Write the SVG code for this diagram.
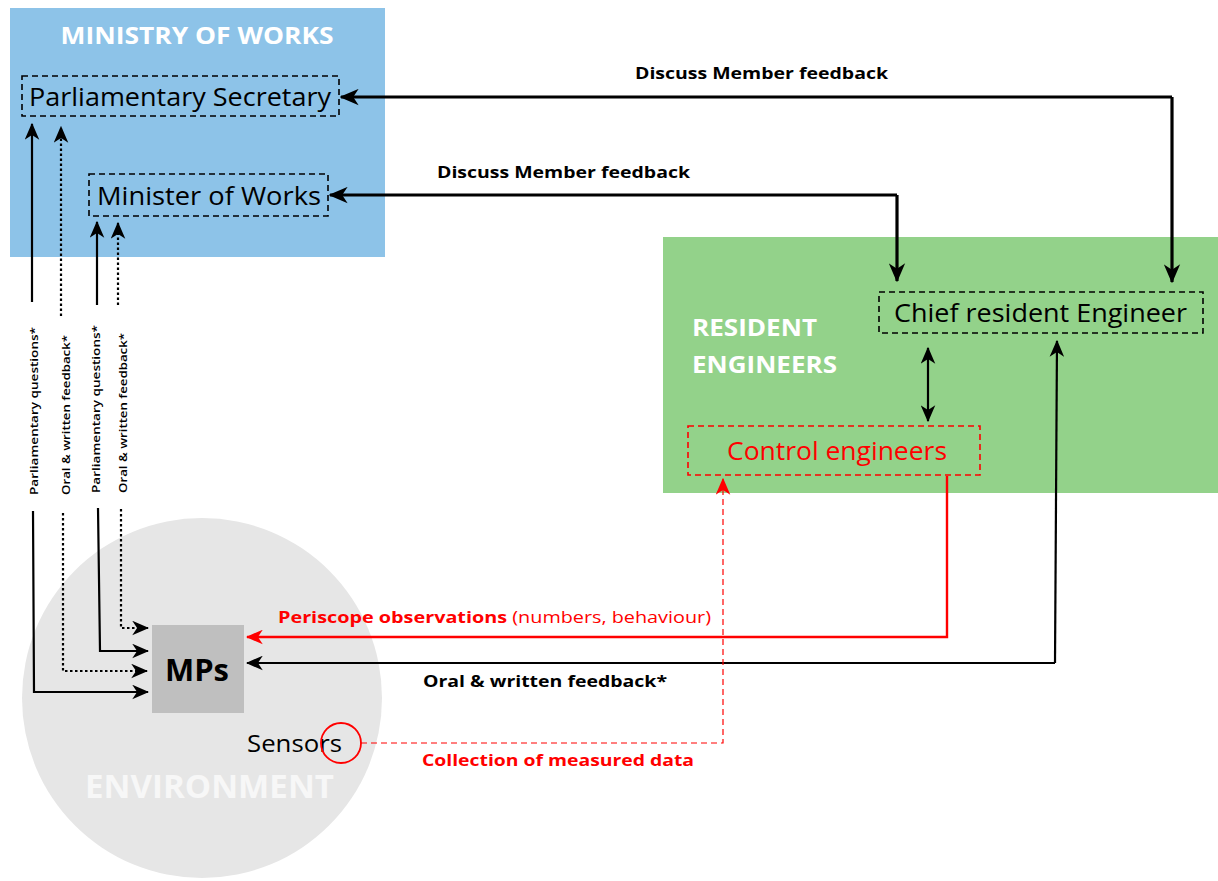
<svg xmlns="http://www.w3.org/2000/svg" width="1218" height="881" viewBox="0 0 1218 881">
<style>
.box{fill:none;stroke:#000;stroke-width:1.6;stroke-dasharray:6,4}
.rbox{fill:none;stroke:#ff0000;stroke-width:1.6;stroke-dasharray:6,4}
.node{font-family:"Open Sans","Liberation Sans",sans-serif;font-size:26px;fill:#000}
.hdr{font-family:"Open Sans","Liberation Sans",sans-serif;font-size:23px;font-weight:bold;fill:#fff}
.blk{fill:none;stroke:#000;stroke-width:2.2}
.thick{fill:none;stroke:#000;stroke-width:3.2}
.dot{fill:none;stroke:#000;stroke-width:2.2;stroke-dasharray:2.5,2.5}
.red{fill:none;stroke:#ff0000;stroke-width:2.4}
.rdash{fill:none;stroke:#ff0000;stroke-width:1.2;stroke-dasharray:6,4}
.vt{font-family:"Open Sans","Liberation Sans",sans-serif;font-size:11.5px;font-weight:600;fill:#000}
.cl{font-family:"Open Sans","Liberation Sans",sans-serif;font-size:16px;font-weight:bold}
</style>
<defs>
<marker id="ah" viewBox="0 0 14 12" refX="13" refY="6" markerWidth="17" markerHeight="15" markerUnits="userSpaceOnUse" orient="auto-start-reverse"><path d="M0,0 L14,6 L0,12 L4,6 z" fill="#000"/></marker>
<marker id="ahb" viewBox="0 0 14 12" refX="13" refY="6" markerWidth="19" markerHeight="17" markerUnits="userSpaceOnUse" orient="auto-start-reverse"><path d="M0,0 L14,6 L0,12 L4,6 z" fill="#000"/></marker>
<marker id="ahr" viewBox="0 0 14 12" refX="13" refY="6" markerWidth="17" markerHeight="15" markerUnits="userSpaceOnUse" orient="auto-start-reverse"><path d="M0,0 L14,6 L0,12 L4,6 z" fill="#ff0000"/></marker>
</defs>
<rect width="1218" height="881" fill="#fff"/>

<g id="ministry">
<rect x="10" y="8" width="375" height="249" fill="#8DC3E8"/>
<text class="hdr" x="197" y="44" text-anchor="middle" textLength="273" lengthAdjust="spacingAndGlyphs">MINISTRY OF WORKS</text>
</g>
<g id="resident">
<rect x="663" y="237" width="555" height="256" fill="#93D28A"/>
<text class="hdr" x="692" y="336" textLength="125" lengthAdjust="spacingAndGlyphs">RESIDENT</text>
<text class="hdr" x="692" y="373" textLength="145" lengthAdjust="spacingAndGlyphs">ENGINEERS</text>
</g>
<g id="environment">
<circle cx="202" cy="698" r="180" fill="#E6E6E6"/>
<text x="85" y="798" font-family="Open Sans, Liberation Sans, sans-serif" font-size="32" font-weight="bold" fill="#F7F7F7" textLength="249" lengthAdjust="spacingAndGlyphs">ENVIRONMENT</text>
</g>

<g id="parl-sec">
<rect class="box" x="22" y="76" width="317" height="40"/>
<text class="node" x="29" y="106" textLength="302" lengthAdjust="spacingAndGlyphs">Parliamentary Secretary</text>
</g>
<g id="minister">
<rect class="box" x="89" y="174" width="239" height="42"/>
<text class="node" x="97" y="205" textLength="224" lengthAdjust="spacingAndGlyphs">Minister of Works</text>
</g>
<g id="chief">
<rect class="box" x="879" y="292" width="324" height="41"/>
<text class="node" x="894" y="322" textLength="293" lengthAdjust="spacingAndGlyphs">Chief resident Engineer</text>
</g>
<g id="control">
<rect class="rbox" x="688" y="426" width="292" height="49"/>
<text class="node" x="727" y="460" style="fill:#ff0000" textLength="220" lengthAdjust="spacingAndGlyphs">Control engineers</text>
</g>
<g id="mps">
<rect x="152" y="625" width="92" height="88" fill="#BFBFBF"/>
<text x="197" y="681" text-anchor="middle" font-family="Open Sans, Liberation Sans, sans-serif" font-size="30" font-weight="bold" fill="#000" textLength="64" lengthAdjust="spacingAndGlyphs">MPs</text>
</g>
<g id="sensors">
<text x="247" y="752" font-family="Open Sans, Liberation Sans, sans-serif" font-size="24" fill="#000" textLength="95" lengthAdjust="spacingAndGlyphs">Sensors</text>
<circle cx="341" cy="743" r="20" fill="none" stroke="#ff0000" stroke-width="1.8"/>
</g>

<g id="connectors">
<path class="thick" d="M1172,97 L341,97" marker-end="url(#ahb)"/>
<path class="thick" d="M1172,97 L1172,282" marker-end="url(#ahb)"/>
<path class="thick" d="M897,195 L330,195" marker-end="url(#ahb)"/>
<path class="thick" d="M897,195 L897,281" marker-end="url(#ahb)"/>
<text class="cl" x="635" y="79" fill="#000" textLength="253" lengthAdjust="spacingAndGlyphs">Discuss Member feedback</text>
<text class="cl" x="437" y="178" fill="#000" textLength="253" lengthAdjust="spacingAndGlyphs">Discuss Member feedback</text>

<path class="blk" d="M928,348 L928,421" marker-start="url(#ah)" marker-end="url(#ah)"/>

<path class="blk" d="M32,302 L32,124" marker-end="url(#ah)"/>
<path class="dot" d="M61,316 L61,127" marker-end="url(#ah)"/>
<path class="blk" d="M97,305 L97,222" marker-end="url(#ah)"/>
<path class="dot" d="M118,305 L118,223" marker-end="url(#ah)"/>
<path class="blk" d="M33,511 L34,692 L148,692" marker-end="url(#ah)"/>
<path class="dot" d="M63,513 L63,671 L147,671" marker-end="url(#ah)"/>
<path class="blk" d="M98,508 L100,651 L148,651" marker-end="url(#ah)"/>
<path class="dot" d="M121,509 L121,628 L148,628" marker-end="url(#ah)"/>

<text class="vt" transform="translate(38,495) rotate(-90)" textLength="168" lengthAdjust="spacingAndGlyphs">Parliamentary questions*</text>
<text class="vt" transform="translate(70,495) rotate(-90)" textLength="160" lengthAdjust="spacingAndGlyphs">Oral &amp; written feedback*</text>
<text class="vt" transform="translate(100,493) rotate(-90)" textLength="168" lengthAdjust="spacingAndGlyphs">Parliamentary questions*</text>
<text class="vt" transform="translate(127,493) rotate(-90)" textLength="160" lengthAdjust="spacingAndGlyphs">Oral &amp; written feedback*</text>

<path class="red" d="M947,476 L947,637 L247,637" marker-end="url(#ahr)"/>
<text x="278" y="623" font-family="Open Sans, Liberation Sans, sans-serif" font-size="16" fill="#ff0000" textLength="433" lengthAdjust="spacingAndGlyphs"><tspan font-weight="bold">Periscope observations</tspan> (numbers, behaviour)</text>

<path class="blk" d="M1055,663 L1057,341" marker-end="url(#ah)"/>
<path class="blk" d="M1055,663 L247,663" marker-end="url(#ah)"/>
<text class="cl" x="423" y="687" fill="#000" textLength="244" lengthAdjust="spacingAndGlyphs">Oral &amp; written feedback*</text>

<path class="rdash" d="M361,743 L723,743 L723,479" marker-end="url(#ahr)"/>
<text class="cl" x="422" y="766" fill="#ff0000" textLength="272" lengthAdjust="spacingAndGlyphs">Collection of measured data</text>
</g>
</svg>
